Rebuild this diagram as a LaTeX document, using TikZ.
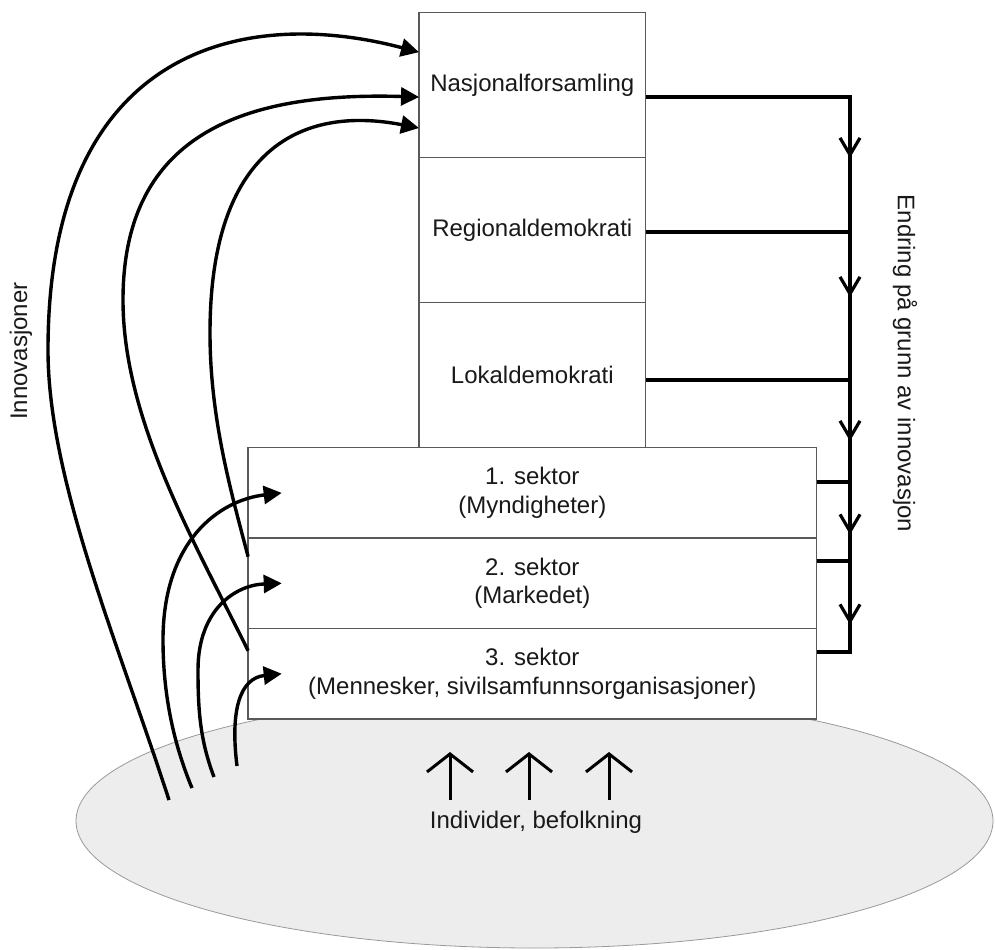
\documentclass[tikz,border=0pt]{standalone}
\usepackage{fontspec}
\setmainfont{Liberation Sans}
\usetikzlibrary{positioning,shapes.geometric,arrows.meta}

\tikzset{
  lbl/.style={font=\fontsize{12}{14.4}\selectfont, text=black!90},
  tier/.style={lbl, draw=black!65, line width=0.7pt, fill=white, minimum width=113.3pt, minimum height=72.5pt, inner sep=0pt, outer sep=0pt, align=center},
  sektorbox/.style={tier, minimum width=284.2pt, minimum height=45.2pt},
  folk/.style={ellipse, draw=black!40, line width=0.4pt, fill=black!7, minimum width=458.5pt, minimum height=127pt, inner sep=0pt},
  innov/.style={line width=1.7pt, -{Triangle[length=9pt,width=9pt]}},
  bus/.style={line width=1.6pt},
  busarrow/.style={bus, -{Straight Barb[length=8.5pt,width=10pt]}},
  rise/.style={line width=1.5pt, -{Straight Barb[length=9pt,width=23pt]}}
}

\begin{document}
\begin{tikzpicture}[x=0.5pt,y=-0.5pt]
\useasboundingbox (0,0) rectangle (995,949);
\node[folk] (folk) at (534.5,821) {};
\node[lbl] (folktekst) at (536,822) {Individer, befolkning};
\coordinate (opp1) at (450,800);
\coordinate (opp2) at (529,800);
\coordinate (opp3) at (609,800);
\draw[rise] (opp1) -- ++(0,-48);
\draw[rise] (opp2) -- ++(0,-48);
\draw[rise] (opp3) -- ++(0,-48);

\node[tier] (nasjonal) at (532.3,85.2) {Nasjonalforsamling};
\node[tier, below=0pt of nasjonal] (regional) {Regionaldemokrati};
\node[tier, below=0pt of regional] (lokal) {Lokaldemokrati};
\node[sektorbox, below=0pt of lokal] (sektor1) {1. sektor\\(Myndigheter)};
\node[sektorbox, below=0pt of sektor1] (sektor2) {2. sektor\\(Markedet)};
\node[sektorbox, below=0pt of sektor2] (sektor3) {3. sektor\\(Mennesker, sivilsamfunnsorganisasjoner)};

\node[lbl, rotate=90] (innovasjoner) at (21,351) {Innovasjoner};
\node[lbl, rotate=-90] (endring) at (905,363.5) {Endring på grunn av innovasjon};

\coordinate (s1) at (169,800);
\coordinate (s2) at (192,788);
\coordinate (s3) at (214,777);
\coordinate (s4) at (237,766);
\draw[innov] (s1) .. controls (119,645) and (48,480) .. (48,350) .. controls (48,50) and (240,5) .. ([yshift=16.5pt]nasjonal.west);
\draw[innov] ([yshift=11.5pt]sektor3.west) .. controls (195,543) and (123,420) .. (123,300) .. controls (123,130) and (250,92) .. ([yshift=-5.9pt]nasjonal.west);
\draw[innov] ([yshift=13.3pt]sektor2.west) .. controls (232,495) and (210,420) .. (210,333) .. controls (210,150) and (300,105) .. ([yshift=-21.4pt]nasjonal.west);
\draw[innov] (s2) .. controls (172,740) and (163,690) .. (163,640) .. controls (163,540) and (220,500) .. ([xshift=16.8pt]sektor1.west);
\draw[innov] (s3) .. controls (200,740) and (198,710) .. (198,670) .. controls (198,610) and (235,585) .. ([xshift=16.8pt]sektor2.west);
\draw[innov] (s4) .. controls (230,710) and (240,678) .. ([xshift=16.8pt]sektor3.west);

\coordinate (b1) at (850,97);
\coordinate (b2) at (850,232);
\coordinate (b3) at (850,380);
\coordinate (b4) at (850,482);
\coordinate (b5) at (850,561);
\coordinate (b6) at (850,652);
\draw[bus] (nasjonal.east |- b1) -- (b1) -- (b6) -- (sektor3.east |- b6);
\draw[bus] (regional.east |- b2) -- (b2);
\draw[bus] (lokal.east |- b3) -- (b3);
\draw[bus] (sektor1.east |- b4) -- (b4);
\draw[bus] (sektor2.east |- b5) -- (b5);
\draw[busarrow] (b1) -- ++(0,61);
\draw[busarrow] (b2) -- ++(0,65);
\draw[busarrow] (b3) -- ++(0,61);
\draw[busarrow] (b4) -- ++(0,52.5);
\draw[busarrow] (b5) -- ++(0,63.5);
\end{tikzpicture}
\end{document}
